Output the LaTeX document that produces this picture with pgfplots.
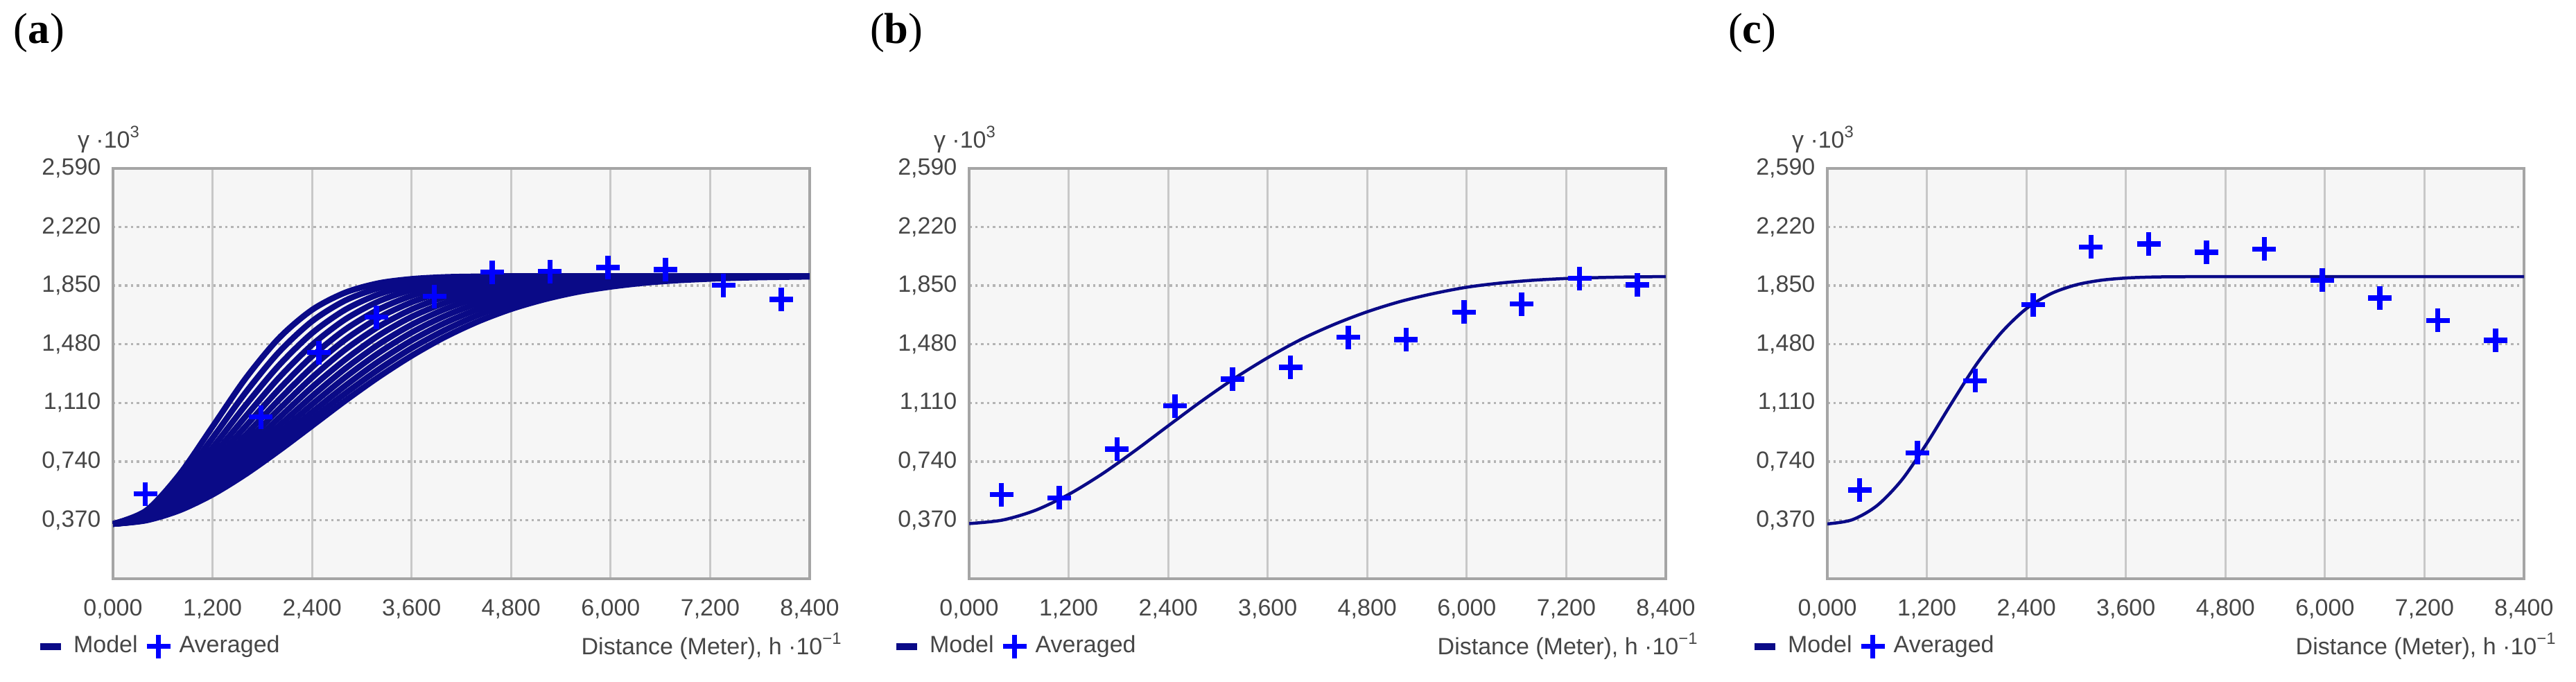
\documentclass[border=0pt]{standalone}
\usepackage{fontspec}
\setmainfont{Liberation Sans}
\newfontfamily\panelfont{Liberation Serif}
\usepackage{pgfplots}
\usepackage{pgfplotstable}
\pgfplotsset{compat=1.18}

\definecolor{modelblue}{RGB}{10,10,135}
\definecolor{avgblue}{RGB}{0,0,255}
\definecolor{labelgray}{RGB}{70,70,70}
\definecolor{bggray}{RGB}{246,246,246}
\definecolor{framegray}{RGB}{165,165,165}
\definecolor{gridgray}{RGB}{200,200,200}
\newcommand\chartfont{\fontsize{6.8}{8}\selectfont}

% Panel (a): family of fitted model curves
\pgfplotstableread{
h    c1    c2    c3    c4    c5    c6    c7    c8    c9    c10   c11   c12   c13
0    0.346 0.346 0.346 0.346 0.346 0.346 0.346 0.346 0.346 0.346 0.346 0.346 0.346
400  0.430 0.418 0.409 0.401 0.394 0.389 0.384 0.380 0.377 0.374 0.372 0.370 0.368
800  0.657 0.615 0.582 0.554 0.530 0.510 0.494 0.479 0.467 0.456 0.447 0.439 0.431
1200 0.960 0.888 0.827 0.775 0.730 0.692 0.659 0.630 0.605 0.583 0.564 0.547 0.531
1600 1.265 1.176 1.096 1.025 0.963 0.907 0.858 0.815 0.777 0.742 0.712 0.685 0.660
2000 1.518 1.430 1.346 1.268 1.195 1.129 1.069 1.014 0.964 0.919 0.879 0.842 0.808
2400 1.697 1.625 1.550 1.476 1.404 1.335 1.270 1.209 1.152 1.100 1.051 1.007 0.965
2800 1.806 1.756 1.698 1.637 1.573 1.509 1.446 1.383 1.326 1.271 1.218 1.169 1.123
3200 1.865 1.834 1.795 1.750 1.699 1.646 1.590 1.534 1.478 1.424 1.371 1.320 1.272
3600 1.892 1.876 1.853 1.823 1.786 1.745 1.700 1.653 1.603 1.554 1.504 1.455 1.407
4000 1.904 1.896 1.884 1.866 1.842 1.813 1.779 1.741 1.701 1.658 1.614 1.569 1.525
4400 1.908 1.905 1.899 1.889 1.875 1.856 1.832 1.804 1.773 1.738 1.701 1.663 1.623
4800 1.910 1.908 1.906 1.901 1.893 1.881 1.866 1.847 1.824 1.797 1.768 1.736 1.702
5200 1.910 1.910 1.908 1.906 1.902 1.896 1.886 1.874 1.858 1.839 1.816 1.791 1.763
5600 1.910 1.910 1.910 1.909 1.907 1.903 1.898 1.890 1.880 1.866 1.850 1.831 1.810
6000 1.910 1.910 1.910 1.910 1.909 1.907 1.904 1.900 1.893 1.884 1.873 1.859 1.843
6400 1.910 1.910 1.910 1.910 1.910 1.909 1.907 1.905 1.901 1.895 1.888 1.878 1.867
6800 1.910 1.910 1.910 1.910 1.910 1.910 1.909 1.907 1.905 1.902 1.897 1.891 1.883
7200 1.910 1.910 1.910 1.910 1.910 1.910 1.910 1.909 1.908 1.906 1.903 1.899 1.893
7600 1.910 1.910 1.910 1.910 1.910 1.910 1.910 1.910 1.909 1.908 1.906 1.904 1.900
8000 1.910 1.910 1.910 1.910 1.910 1.910 1.910 1.910 1.910 1.909 1.908 1.907 1.904
8400 1.910 1.910 1.910 1.910 1.910 1.910 1.910 1.910 1.910 1.910 1.909 1.908 1.907
}\curvesA

\pgfplotstableread{
h    g
390  0.535
1784 1.021
2481 1.428
3178 1.651
3875 1.782
4572 1.935
5269 1.940
5966 1.965
6663 1.952
7360 1.852
8057 1.763
}\avgA

\pgfplotstableread{
h    g
0    0.348
400  0.370
800  0.432
1200 0.532
1600 0.660
2000 0.808
2400 0.965
2800 1.120
3200 1.265
3600 1.395
4000 1.510
4400 1.605
4800 1.685
5200 1.750
5600 1.800
6000 1.840
6400 1.866
6800 1.884
7200 1.895
7600 1.901
8000 1.905
8400 1.907
}\modelB

\pgfplotstableread{
h    g
390  0.531
1087 0.510
1784 0.819
2481 1.091
3178 1.259
3875 1.335
4572 1.524
5269 1.510
5966 1.683
6663 1.734
7360 1.896
8057 1.855
}\avgB

\pgfplotstableread{
h    g
0    0.346
300  0.372
600  0.462
900  0.625
1200 0.855
1500 1.110
1800 1.355
2100 1.555
2400 1.705
2700 1.800
3000 1.855
3300 1.884
3600 1.898
3900 1.904
4200 1.906
4800 1.907
5400 1.907
6000 1.907
6600 1.907
7200 1.907
7800 1.907
8400 1.907
}\modelC

\pgfplotstableread{
h    g
390  0.560
1087 0.795
1784 1.250
2481 1.730
3178 2.094
3875 2.112
4572 2.060
5269 2.081
5966 1.884
6663 1.771
7360 1.630
8057 1.504
}\avgC

\pgfplotsset{
  vario/.style={
    scale only axis, width=201pt, height=118.4pt,
    xmin=0, xmax=8400, ymin=0, ymax=2.59,
    xtick={0,1200,2400,3600,4800,6000,7200,8400},
    xticklabels={{0,000},{1,200},{2,400},{3,600},{4,800},{6,000},{7,200},{8,400}},
    ytick={0.37,0.74,1.11,1.48,1.85,2.22,2.59},
    yticklabels={{0,370},{0,740},{1,110},{1,480},{1,850},{2,220},{2,590}},
    scaled ticks=false,
    major tick length=0pt,
    tick style={draw=none},
    grid=major,
    x grid style={draw=gridgray, line width=0.6pt},
    y grid style={draw=gridgray!90!black, line width=0.7pt, densely dotted},
    axis line style={draw=framegray, line width=0.7pt},
    axis background/.style={fill=bggray},
    tick label style={font=\chartfont, text=labelgray},
    xticklabel style={yshift=-2.5pt},
    every axis y label/.style={at={(-0.0517,1.0709)}, anchor=west, inner sep=0pt,
      font=\chartfont, text=labelgray},
    every axis x label/.style={at={(1.0488,-0.185)}, anchor=base east, inner sep=0pt,
      font=\chartfont, text=labelgray},
    every axis title/.style={at={(-0.1433,1.331)}, anchor=west, inner sep=0pt,
      font=\panelfont\fontsize{12.5}{14}\selectfont},
    xlabel={Distance (Meter), h ·10\textsuperscript{−1}},
    ylabel={γ ·10\textsuperscript{3}},
    legend columns=2,
    legend style={at={(-0.1104,-0.165)}, anchor=west, draw=none, fill=none,
      inner sep=0pt, font=\chartfont, text=labelgray,
      nodes={inner xsep=2.6pt, inner ysep=1.2pt}},
  },
  modelline/.style={modelblue, line width=0.9pt, smooth, no marks},
  avgmarks/.style={only marks, mark=+, avgblue, mark size=3.4pt,
    mark options={line width=1.5pt}},
}

\newcommand\varlegend{%
  \addlegendimage{legend image code/.code={\draw[modelblue, line width=2pt] (0pt,0pt) -- (6pt,0pt);}}
  \addlegendentry{Model\hspace{9pt}}
  \addlegendimage{legend image code/.code={\draw[avgblue, line width=1.5pt] plot[only marks, mark=+, mark size=3.4pt] coordinates {(3.4pt,0pt)};}}
  \addlegendentry{Averaged}
}

\begin{document}
\begin{tikzpicture}
\useasboundingbox (0,0) rectangle (743.2pt,196.8pt);

% (a)
\begin{axis}[vario, at={(32.6pt,29.8pt)}, anchor=south west, title={(\textbf{a})}]
  \varlegend
  \addplot[avgmarks, forget plot] table[x=h, y=g] {\avgA};
  \addplot[modelline, line width=1.7pt, forget plot] table[x=h, y=c13] {\curvesA};
  \addplot[modelline, line width=1.7pt, forget plot] table[x=h, y=c12] {\curvesA};
  \addplot[modelline, line width=1.7pt, forget plot] table[x=h, y=c11] {\curvesA};
  \addplot[modelline, line width=1.7pt, forget plot] table[x=h, y=c10] {\curvesA};
  \addplot[modelline, line width=1.7pt, forget plot] table[x=h, y=c9] {\curvesA};
  \addplot[modelline, line width=1.7pt, forget plot] table[x=h, y=c8] {\curvesA};
  \addplot[modelline, line width=1.7pt, forget plot] table[x=h, y=c7] {\curvesA};
  \addplot[modelline, line width=1.7pt, forget plot] table[x=h, y=c6] {\curvesA};
  \addplot[modelline, line width=1.7pt, forget plot] table[x=h, y=c5] {\curvesA};
  \addplot[modelline, line width=1.7pt, forget plot] table[x=h, y=c4] {\curvesA};
  \addplot[modelline, line width=1.7pt, forget plot] table[x=h, y=c3] {\curvesA};
  \addplot[modelline, line width=1.7pt, forget plot] table[x=h, y=c2] {\curvesA};
  \addplot[modelline, line width=1.7pt, forget plot] table[x=h, y=c1] {\curvesA};
\end{axis}

% (b)
\begin{axis}[vario, at={(279.6pt,29.8pt)}, anchor=south west, title={(\textbf{b})}]
  \varlegend
  \addplot[modelline, forget plot] table[x=h, y=g] {\modelB};
  \addplot[avgmarks, forget plot] table[x=h, y=g] {\avgB};
\end{axis}

% (c)
\begin{axis}[vario, at={(527.2pt,29.8pt)}, anchor=south west, title={(\textbf{c})}]
  \varlegend
  \addplot[modelline, forget plot] table[x=h, y=g] {\modelC};
  \addplot[avgmarks, forget plot] table[x=h, y=g] {\avgC};
\end{axis}
\end{tikzpicture}
\end{document}
